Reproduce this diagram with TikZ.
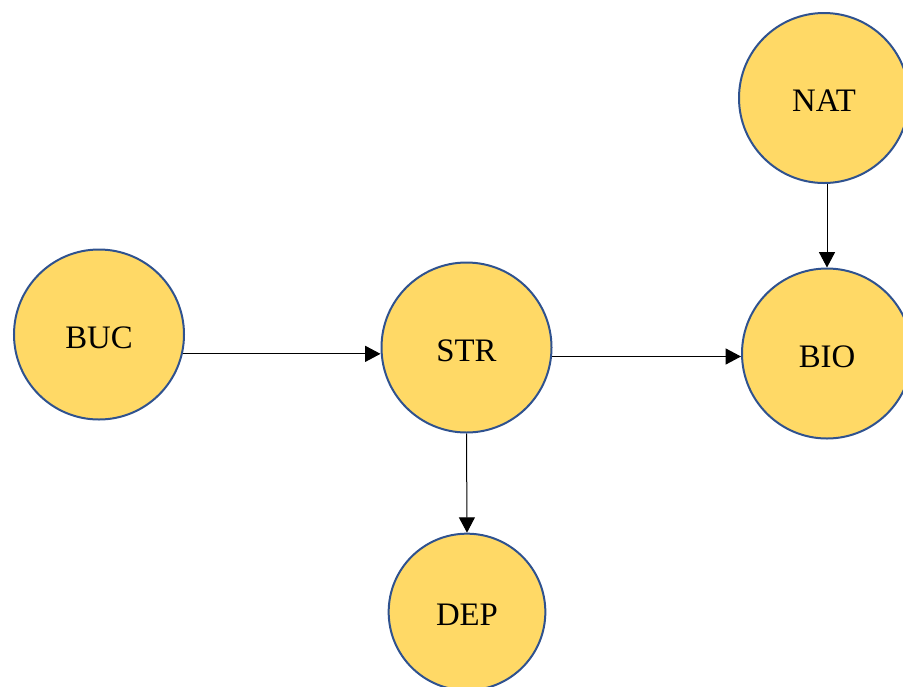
\documentclass[tikz,border=0pt]{standalone}
\usepackage{fontspec}
\setmainfont{Liberation Serif}
\usetikzlibrary{arrows.meta}
\definecolor{EdgeBlue}{HTML}{2F528F}
\definecolor{GoldFill}{HTML}{FFD966}

\begin{document}
\begin{tikzpicture}[x=0.3mm,y=-0.3mm,
    var/.style={circle,draw=EdgeBlue,fill=GoldFill,line width=0.6mm,
                minimum size=51mm,inner sep=0pt,text height=8.2mm,text depth=0pt,
                font=\fontsize{28}{32}\selectfont},
    arr/.style={-{Triangle[length=4.6mm,width=4.8mm]},line width=0.3mm,black}]
    \useasboundingbox (0,0) rectangle (903,686);
    \clip (0,0) rectangle (903,686);
    \node[var] (buc) at (99,334.5) {BUC};
    \node[var] (str) at (466.5,347.5) {STR};
    \node[var] (nat) at (824,98) {NAT};
    \node[var] (bio) at (827,353.5) {BIO};
    \node[var,minimum size=47mm] (dep) at (467,612) {DEP};
    \draw[arr] (buc.-13) -- (buc.-13 -| str.west);
    \draw[arr] (str.-6) -- (str.-6 -| bio.west);
    \draw[arr] (str.south) -- (dep.north);
    \draw[arr] (nat.south -| bio.north) -- (bio.north);
\end{tikzpicture}
\end{document}
